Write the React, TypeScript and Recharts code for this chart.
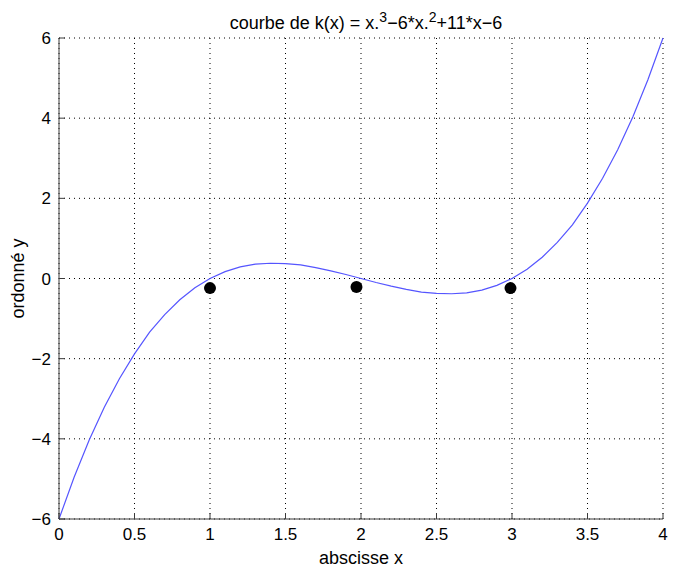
import {
  ComposedChart,
  Line,
  Scatter,
  XAxis,
  YAxis,
  CartesianGrid,
} from "recharts";

// curve k(x), step 0.1
const xs = [
  0, 0.1, 0.2, 0.3, 0.4, 0.5, 0.6, 0.7, 0.8, 0.9, 1.0, 1.1, 1.2, 1.3, 1.4,
  1.5, 1.6, 1.7, 1.8, 1.9, 2.0, 2.1, 2.2, 2.3, 2.4, 2.5, 2.6, 2.7, 2.8, 2.9,
  3.0, 3.1, 3.2, 3.3, 3.4, 3.5, 3.6, 3.7, 3.8, 3.9, 4.0,
];
const ks = [
  -6, -4.96, -4.03, -3.21, -2.5, -1.88, -1.34, -0.9, -0.53, -0.23, 0, 0.17,
  0.29, 0.36, 0.38, 0.37, 0.34, 0.27, 0.19, 0.1, 0, -0.1, -0.19, -0.27, -0.34,
  -0.37, -0.38, -0.36, -0.29, -0.17, 0, 0.23, 0.53, 0.9, 1.34, 1.88, 2.5, 3.21,
  4.03, 4.96, 6,
];

// the three black dots
const ptX = [1, 1.97, 2.99];
const ptY = [-0.24, -0.21, -0.24];

const xTicks = [0, 0.5, 1, 1.5, 2, 2.5, 3, 3.5, 4];
const yTicks = [-6, -4, -2, 0, 2, 4, 6];

const curve = xs.map((x, i) => ({ x, y: ks[i] }));
const points = ptX.map((x, i) => ({ x, y: ptY[i] }));

const font = "'Liberation Sans', Arial, sans-serif";
const axisColor = "#3a3a3a";
const tickStyle = { fill: "#000", fontSize: 17, fontFamily: font };
const labelStyle = { fill: "#000", fontSize: 18, fontFamily: font };
const minus = (v: number) => String(v).replace("-", "\u2212");

const App = () => {
  return (
    <div style={{ position: "fixed", left: 0, top: 0, width: 674, height: 568, background: "#fff" }}>
      <div
        style={{
          position: "absolute",
          left: 64,
          width: 604,
          top: 5,
          textAlign: "center",
          fontFamily: font,
          fontSize: 18,
          color: "#000",
          lineHeight: "24px",
        }}
      >
        courbe de k(x) = x.<sup style={{ fontSize: 14 }}>3</sup>−6*x.
        <sup style={{ fontSize: 14 }}>2</sup>+11*x−6
      </div>
      <ComposedChart
        width={674}
        height={568}
        margin={{ top: 38, right: 11, left: 0, bottom: 0 }}
      >
        <CartesianGrid stroke="#000" strokeDasharray="1 4" />
        <XAxis
          dataKey="x"
          type="number"
          domain={[0, 4]}
          ticks={xTicks}
          height={49}
          stroke={axisColor}
          tickSize={-6}
          tickMargin={15}
          tick={tickStyle}
          label={{
            value: "abscisse x",
            position: "insideBottom",
            offset: 4,
            style: labelStyle,
          }}
        />
        <XAxis
          xAxisId="top"
          orientation="top"
          type="number"
          domain={[0, 4]}
          ticks={xTicks}
          height={0}
          stroke={axisColor}
          tickSize={-6}
          tick={false}
        />
        <YAxis
          dataKey="y"
          type="number"
          domain={[-6, 6]}
          ticks={yTicks}
          width={59}
          stroke={axisColor}
          tickSize={-6}
          tickMargin={14}
          tick={tickStyle}
          tickFormatter={minus}
          label={{
            value: "ordonné y",
            angle: -90,
            position: "insideLeft",
            offset: 18,
            style: { ...labelStyle, textAnchor: "middle" },
          }}
        />
        <YAxis
          yAxisId="right"
          orientation="right"
          type="number"
          domain={[-6, 6]}
          ticks={yTicks}
          width={0}
          stroke={axisColor}
          tickSize={-6}
          tick={false}
        />
        <Line
          data={curve}
          dataKey="y"
          type="linear"
          stroke="#5555ff"
          strokeWidth={1.2}
          dot={false}
          isAnimationActive={false}
        />
        <Scatter
          data={points}
          dataKey="y"
          fill="#000"
          shape={(p: any) => <circle cx={p.cx} cy={p.cy} r={6} fill="#000" />}
          isAnimationActive={false}
        />
      </ComposedChart>
    </div>
  );
};

export default App;
